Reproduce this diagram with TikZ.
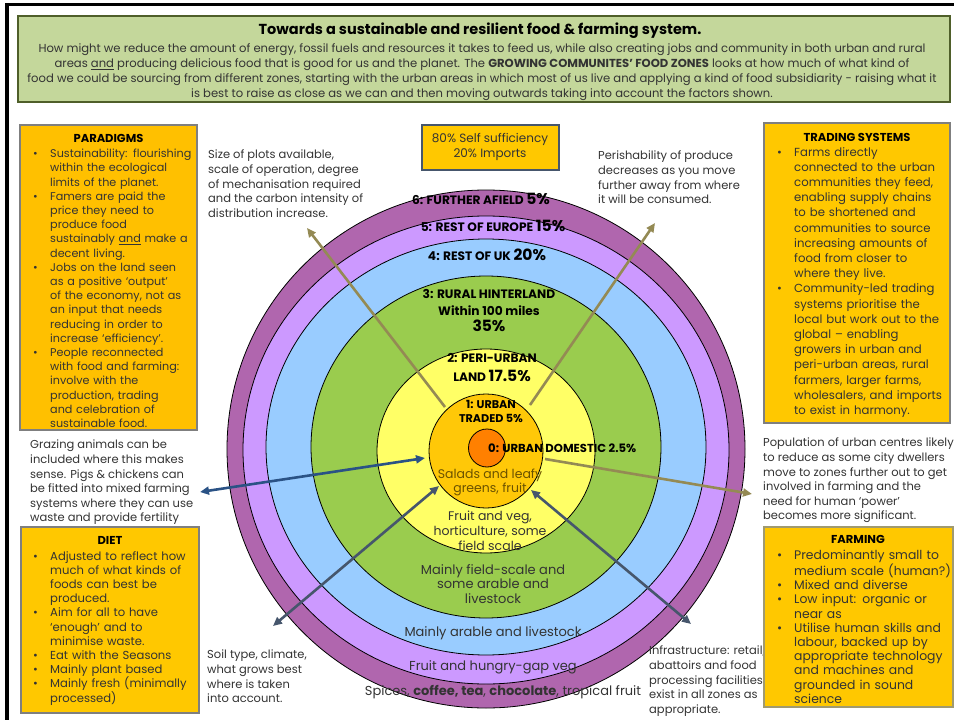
\documentclass[tikz,border=0pt]{standalone}
\usepackage{fontspec}
\setmainfont{Poppins}
\usetikzlibrary{arrows.meta}

\definecolor{zonepurple}{HTML}{B066AE}
\definecolor{zonelilac}{HTML}{CC99FF}
\definecolor{zoneblue}{HTML}{99CCFF}
\definecolor{zonegreen}{HTML}{9ACC4E}
\definecolor{zoneyellow}{HTML}{FFFF66}
\definecolor{zonegold}{HTML}{FFC808}
\definecolor{zoneorange}{HTML}{FF8000}
\definecolor{headgreen}{HTML}{C4D79B}
\definecolor{headborder}{HTML}{4F5F2A}
\definecolor{boxgold}{HTML}{FFC800}
\definecolor{boxamber}{HTML}{FFC000}
\definecolor{boxgrey}{HTML}{7F7F7F}
\definecolor{boxolive}{HTML}{A09A70}
\definecolor{textgrey}{HTML}{333333}
\definecolor{saladbrown}{HTML}{6B5200}
\definecolor{olivearrow}{HTML}{948A54}
\definecolor{bluearrow}{HTML}{2A5285}
\definecolor{slatearrow}{HTML}{46566C}

\newcommand{\bitem}[1]{\noindent\hangindent=17pt\hangafter=1\hbox to 17pt{\textbullet\hss}#1\par}

\tikzset{
  zone/.style={draw=black, line width=0.8pt},
  infobox/.style={draw=boxgrey, fill=boxgold, line width=2.5pt},
  boxhead/.style={inner sep=0pt, text=black, font=\bfseries\fontsize{11.5}{14}\selectfont},
  boxtext/.style={anchor=north west, inner sep=0pt, align=left, text width=200pt, text=textgrey},
  note/.style={anchor=north west, inner sep=0pt, align=left, text=textgrey, font=\fontsize{11.5}{14.6}\selectfont},
  zonelabel/.style={align=center, inner sep=0pt, text=black, font=\bfseries\fontsize{12.2}{17}\selectfont},
  zonefood/.style={align=center, inner sep=0pt, text=textgrey, font=\fontsize{13}{14.5}\selectfont},
  pointer/.style={line width=2.6pt, -{Triangle[length=9pt,width=8pt]}},
  twoway/.style={line width=2.6pt, {Triangle[length=9pt,width=8pt]}-{Triangle[length=9pt,width=8pt]}}
}
\newcommand{\pct}[1]{{\fontsize{15.5}{17}\selectfont #1}}

\begin{document}
\begin{tikzpicture}[x=1pt,y=-1pt]
\useasboundingbox (0,0) rectangle (954,720);

% frame
\draw[line width=3.5pt] (7,724) -- (7,4.5) -- (958,4.5);

% heading
\filldraw[draw=headborder, fill=headgreen, line width=1.2pt] (18,16) rectangle (950,102);
\node[text=black, font=\bfseries\fontsize{14.5}{16}\selectfont] (title) at (480,31) {Towards a sustainable and resilient food \& farming system.};
\node[anchor=north, align=center, text=textgrey, font=\fontsize{11.6}{15}\selectfont] (intro) at (482,40)
  {How might we reduce the amount of energy, fossil fuels and resources it takes to feed us, while also creating jobs and community in both urban and rural\\
   areas \underline{and} producing delicious food that is good for us and the planet. The \textbf{GROWING COMMUNITES' FOOD ZONES} looks at how much of what kind of\\
   food we could be sourcing from different zones, starting with the urban areas in which most of us live and applying a kind of food subsidiarity - raising what it\\
   is best to raise as close as we can and then moving outwards taking into account the factors shown.};

% zones
\filldraw[zone, fill=zonepurple] (486,449) ellipse [x radius=259pt, y radius=259pt];
\filldraw[zone, fill=zonelilac] (486,450) ellipse [x radius=243pt, y radius=234pt];
\filldraw[zone, fill=zoneblue] (486,447) ellipse [x radius=220pt, y radius=208pt];
\filldraw[zone, fill=zonegreen] (486,447) ellipse [x radius=175pt, y radius=171pt];
\filldraw[zone, fill=zoneyellow] (486,451) ellipse [x radius=109pt, y radius=102pt];
\filldraw[zone, fill=zonegold] (486,451) ellipse [x radius=57pt, y radius=57pt];
\filldraw[zone, fill=zoneorange] (487,448) ellipse [x radius=18.5pt, y radius=19pt];

% arrows
\coordinate (plotsTail) at (445,407);
\coordinate (plotsTip) at (307,228);
\coordinate (perishTail) at (530,405);
\coordinate (perishTip) at (655,223);
\coordinate (peopleTail) at (545,459);
\coordinate (peopleTip) at (752,494);
\coordinate (grazeEnd) at (200,492);
\coordinate (grazeCore) at (425,458);
\coordinate (soilEnd) at (273,626);
\coordinate (soilCore) at (439,486);
\coordinate (infraCore) at (531,490);
\coordinate (infraEnd) at (691,624);
\draw[pointer, olivearrow] (plotsTail) -- (plotsTip);
\draw[pointer, olivearrow] (perishTail) -- (perishTip);
\draw[pointer, olivearrow] (peopleTail) -- (peopleTip);
\draw[twoway, bluearrow] (grazeEnd) -- (grazeCore);
\draw[twoway, slatearrow] (soilEnd) -- (soilCore);
\draw[twoway, slatearrow] (infraCore) -- (infraEnd);

% zone labels
\node[zonelabel] (further) at (481,199) {6: FURTHER AFIELD \pct{5\%}};
\node[zonelabel] (europe) at (493,226) {5: REST OF EUROPE \pct{15\%}};
\node[zonelabel] (restuk) at (487,255) {4: REST OF UK \pct{20\%}};
\node[zonelabel, font=\bfseries\fontsize{12.2}{16.5}\selectfont] (rural) at (489,311) {3: RURAL HINTERLAND\\ Within 100 miles\\ \pct{35\%}};
\node[zonelabel, font=\bfseries\fontsize{12.2}{19}\selectfont] (periurban) at (492,368) {2: PERI-URBAN\\ LAND \pct{17.5\%}};
\node[zonelabel, font=\bfseries\fontsize{11.2}{14}\selectfont] (traded) at (491,411) {1: URBAN\\ TRADED 5\%};
\node[zonelabel, anchor=west, font=\bfseries\fontsize{11.6}{14}\selectfont] (domestic) at (488,448) {0: URBAN DOMESTIC 2.5\%};

% zone foods
\node[zonefood, text=saladbrown, font=\fontsize{12.5}{14}\selectfont] (salads) at (490,482) {Salads and leafy\\ greens, fruit};
\node[zonefood, font=\fontsize{12.5}{15}\selectfont] (fruitveg) at (490,531) {Fruit and veg,\\ horticulture, some\\ field scale};
\node[zonefood] (fieldscale) at (493,584) {Mainly field-scale and\\ some arable and\\ livestock};
\node[zonefood] (arable) at (493,633) {Mainly arable and livestock};
\node[zonefood] (hungrygap) at (493,667) {Fruit and hungry-gap veg};
\node[zonefood] (spices) at (503,692) {Spices, \textbf{coffee, tea}, \textbf{chocolate}, tropical fruit};

% target box
\filldraw[draw=slatearrow, fill=boxgold, line width=2pt] (422,125) rectangle (559,170);
\node[zonefood, font=\fontsize{12}{14.5}\selectfont] (selfsuff) at (490,147) {80\% Self sufficiency\\ 20\% Imports};

% factor notes
\node[note] (plots) at (208,150) {Size of plots available,\\ scale of operation, degree\\ of mechanisation required\\ and the carbon intensity of\\ distribution increase.};
\node[note] (perish) at (598,151) {Perishability of produce\\ decreases as you move\\ further away from where\\ it will be consumed.};
\node[note] (grazing) at (30,440) {Grazing animals can be\\ included where this makes\\ sense. Pigs \& chickens can\\ be fitted into mixed farming\\ systems where they can use\\ waste and provide fertility};
\node[note] (population) at (763,438) {Population of urban centres likely\\ to reduce as some city dwellers\\ move to zones further out to get\\ involved in farming and the\\ need for human ‘power’\\ becomes more significant.};
\node[note] (soil) at (207,650) {Soil type, climate,\\ what grows best\\ where is taken\\ into account.};
\node[note] (infra) at (649,646) {Infrastructure: retail,\\ abattoirs and food\\ processing facilities\\ exist in all zones as\\ appropriate.};

% paradigms
\filldraw[infobox, fill=boxamber] (20,125) rectangle (197,430);
\node[boxhead] (paradigmsHead) at (108.5,138) {PARADIGMS};
\node[boxtext, font=\fontsize{11.2}{14.2}\selectfont] (paradigms) at (33,149) {%
  \bitem{Sustainability: flourishing\newline within the ecological\newline limits of the planet.}
  \bitem{Famers are paid the\newline price they need to\newline produce food\newline sustainably \underline{and} make a\newline decent living.}
  \bitem{Jobs on the land seen\newline as a positive ‘output’\newline of the economy, not as\newline an input that needs\newline reducing in order to\newline increase ‘efficiency’.}
  \bitem{People reconnected\newline with food and farming:\newline involve with the\newline production, trading\newline and celebration of\newline sustainable food.}};

% trading systems
\filldraw[infobox] (764,123) rectangle (950,423);
\node[boxhead] (tradingHead) at (857,137) {TRADING SYSTEMS};
\node[boxtext, font=\fontsize{11.7}{15.2}\selectfont] (trading) at (777,147) {%
  \bitem{Farms directly\newline connected to the urban\newline communities they feed,\newline enabling supply chains\newline to be shortened and\newline communities to source\newline increasing amounts of\newline food from closer to\newline where they live.}
  \bitem{Community-led trading\newline systems prioritise the\newline local but work out to the\newline global – enabling\newline growers in urban and\newline peri-urban areas, rural\newline farmers, larger farms,\newline wholesalers, and imports\newline to exist in harmony.}};

% diet
\filldraw[infobox] (21,527) rectangle (199,713);
\node[boxhead] (dietHead) at (110,540) {DIET};
\node[boxtext, font=\fontsize{11.6}{14.2}\selectfont] (diet) at (33,551) {%
  \bitem{Adjusted to reflect how\newline much of what kinds of\newline foods can best be\newline produced.}
  \bitem{Aim for all to have\newline ‘enough’ and to\newline minimise waste.}
  \bitem{Eat with the Seasons}
  \bitem{Mainly plant based}
  \bitem{Mainly fresh (minimally\newline processed)}};

% farming
\filldraw[infobox, draw=boxolive] (764,527) rectangle (953,707);
\node[boxhead] (farmingHead) at (858,539) {FARMING};
\node[boxtext, font=\fontsize{12.4}{14.2}\selectfont] (farming) at (777,550) {%
  \bitem{Predominantly small to\newline medium scale (human?)}
  \bitem{Mixed and diverse}
  \bitem{Low input: organic or\newline near as}
  \bitem{Utilise human skills and\newline labour, backed up by\newline appropriate technology\newline and machines and\newline grounded in sound\newline science}};

\end{tikzpicture}
\end{document}
